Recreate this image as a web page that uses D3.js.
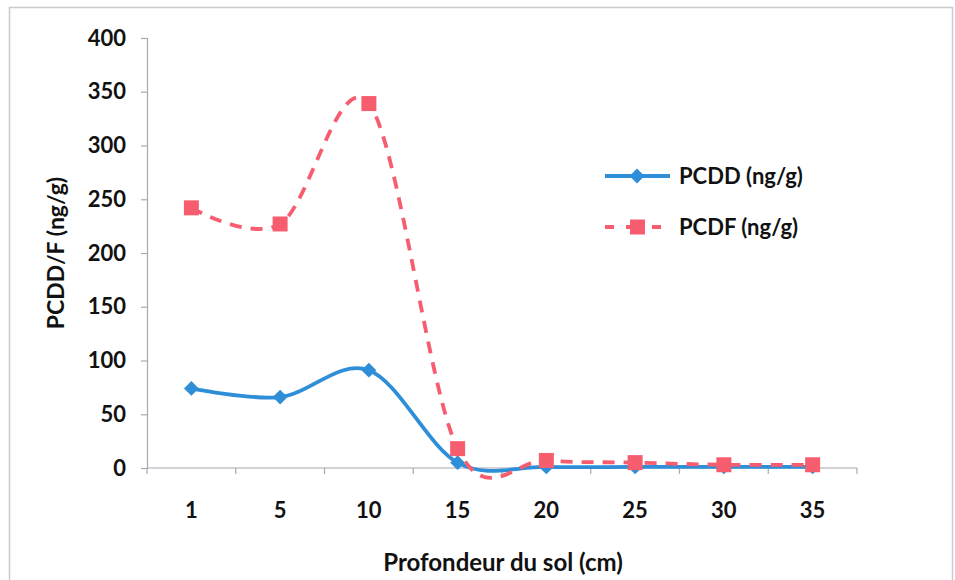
<!DOCTYPE html>
<html>
<head>
<meta charset="utf-8">
<script src="https://cdn.jsdelivr.net/npm/d3@7/dist/d3.min.js"></script>
<style>
  html, body { margin: 0; padding: 0; background: #fff; }
  svg { display: block; }
  text { font-family: Lato, "Open Sans", sans-serif; font-weight: 700; fill: #111; }
</style>
</head>
<body>
<svg id="chart" width="955" height="580"></svg>
<script>
// Soil depth categories (cm) and dioxin / furan concentrations (ng/g)
const depths = ["1", "5", "10", "15", "20", "25", "30", "35"];
const pcdd = [74, 66, 91, 5, 1, 1, 1, 1];
const pcdf = [242, 227, 339, 18, 7, 5, 3, 3];
const yTicks = [0, 50, 100, 150, 200, 250, 300, 350, 400];
const seriesNames = ["PCDD (ng/g)", "PCDF (ng/g)"];

const blue = "#2e8ed8";
const pink = "#f65e70";

const svg = d3.select("#chart");

// outer chart frame
svg.append("rect")
  .attr("x", 9.5).attr("y", 7.5)
  .attr("width", 943).attr("height", 575)
  .attr("fill", "none").attr("stroke", "#c9c9cf").attr("stroke-width", 1.5);

const plot = { left: 147, right: 857, top: 38, bottom: 468 };

const x = d3.scaleBand().domain(depths).range([plot.left, plot.right]);
const y = d3.scaleLinear().domain([0, 400]).range([plot.bottom, plot.top]);
const cx = d => x(d) + x.bandwidth() / 2;

// y axis
const yAxis = svg.append("g")
  .attr("transform", `translate(${plot.left},0)`)
  .call(d3.axisLeft(y).tickValues(yTicks).tickSize(6).tickPadding(15));
yAxis.select(".domain").attr("stroke", "#a8a8b0").attr("stroke-width", 1.2);
yAxis.selectAll(".tick line").attr("stroke", "#a8a8b0").attr("stroke-width", 1.2);
yAxis.selectAll(".tick text")
  .style("font-size", "22px").style("font-family", "Lato, sans-serif")
  .style("font-weight", 700).attr("fill", "#111");

// x axis with ticks on category boundaries
const xAxisG = svg.append("g").attr("transform", `translate(0,${plot.bottom})`);
xAxisG.append("line")
  .attr("x1", plot.left).attr("x2", plot.right)
  .attr("y1", 0).attr("y2", 0)
  .attr("stroke", "#a8a8b0").attr("stroke-width", 1.2);
const bounds = depths.map(d => x(d)).concat([x(depths[depths.length - 1]) + x.bandwidth()]);
xAxisG.selectAll("line.bt").data(bounds).join("line")
  .attr("class", "bt")
  .attr("x1", d => d).attr("x2", d => d)
  .attr("y1", 0).attr("y2", 6)
  .attr("stroke", "#a8a8b0").attr("stroke-width", 1.2);
xAxisG.selectAll("text.cat").data(depths).join("text")
  .attr("class", "cat")
  .attr("x", d => cx(d)).attr("y", 50)
  .attr("text-anchor", "middle")
  .style("font-size", "22px")
  .text(d => d);

// axis titles
svg.append("text")
  .attr("transform", "translate(64,253) rotate(-90)")
  .attr("text-anchor", "middle")
  .style("font-size", "23px")
  .text("PCDD/F (ng/g)");
svg.append("text")
  .attr("x", 503).attr("y", 571)
  .attr("text-anchor", "middle")
  .style("font-size", "24px")
  .text("Profondeur du sol (cm)");

// smoothed lines
const line = d3.line()
  .x((v, i) => cx(depths[i]))
  .y(v => y(v))
  .curve(d3.curveCardinal.tension(0));

svg.append("path")
  .datum(pcdd)
  .attr("d", line)
  .attr("fill", "none").attr("stroke", blue).attr("stroke-width", 3.8)
  .attr("stroke-linecap", "round");

svg.append("path")
  .datum(pcdf)
  .attr("d", line)
  .attr("fill", "none").attr("stroke", pink).attr("stroke-width", 3.8)
  .attr("stroke-dasharray", "12,9");

// markers
const diamond = d3.symbol().type(d3.symbolDiamond2).size(140);
svg.selectAll("path.dd").data(pcdd).join("path")
  .attr("class", "dd")
  .attr("transform", (v, i) => `translate(${cx(depths[i])},${y(v)})`)
  .attr("d", diamond)
  .attr("fill", blue);

svg.selectAll("rect.df").data(pcdf).join("rect")
  .attr("class", "df")
  .attr("x", (v, i) => cx(depths[i]) - 7.5)
  .attr("y", v => y(v) - 7.5)
  .attr("width", 15).attr("height", 15)
  .attr("fill", pink);

// legend
const legend = svg.append("g");
const legendRows = [
  { name: seriesNames[0], color: blue, dash: null, yPos: 176 },
  { name: seriesNames[1], color: pink, dash: "12,9", yPos: 227 }
];
legendRows.forEach((r, i) => {
  legend.append("line")
    .attr("x1", 605).attr("x2", 670)
    .attr("y1", r.yPos).attr("y2", r.yPos)
    .attr("stroke", r.color).attr("stroke-width", 3.8)
    .attr("stroke-dasharray", r.dash ? "9,12,14,12,9" : null);
  if (i === 0) {
    legend.append("path")
      .attr("transform", `translate(637,${r.yPos})`)
      .attr("d", diamond).attr("fill", r.color);
  } else {
    legend.append("rect")
      .attr("x", 630).attr("y", r.yPos - 7.5)
      .attr("width", 15).attr("height", 15).attr("fill", r.color);
  }
  legend.append("text")
    .attr("x", 679).attr("y", r.yPos + 8)
    .style("font-size", "22px")
    .text(r.name);
});
</script>
</body>
</html>
